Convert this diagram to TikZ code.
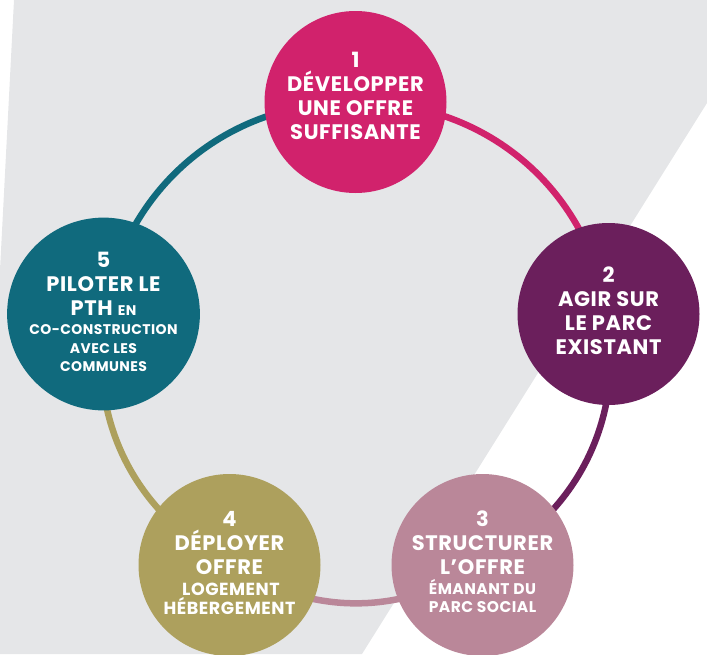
\documentclass[tikz,border=0pt]{standalone}
\usepackage{fontspec}
\setmainfont{Poppins}
\usetikzlibrary{backgrounds}
\definecolor{axeun}{HTML}{D1226C}
\definecolor{axedeux}{HTML}{6B1F5C}
\definecolor{axetrois}{HTML}{BA8799}
\definecolor{axequatre}{HTML}{ADA05D}
\definecolor{axecinq}{HTML}{106A7D}
\definecolor{fond}{HTML}{E5E6E8}
\newcommand{\petit}[1]{\fontsize{#1}{24}\selectfont}
\begin{document}
\begin{tikzpicture}[x=1pt,y=-1pt,
    bubble/.style={circle,minimum size=182pt,inner sep=0pt,align=center,
        text=white,font=\bfseries\addfontfeatures{LetterSpace=3}\fontsize{21}{24}\selectfont},
    ring/.style={line width=6.5pt}]
    \useasboundingbox (0,0) rectangle (707,654);
    % the five axes
    \node[bubble,fill=axeun,text depth=12pt] (c1) at (355.5,102)
        {1\\DÉVELOPPER\\UNE OFFRE\\SUFFISANTE};
    \node[bubble,fill=axedeux,text depth=7pt] (c2) at (608.5,314)
        {2\\AGIR SUR\\LE PARC\\EXISTANT};
    \node[bubble,fill=axetrois,text depth=7pt] (c3) at (482.5,565)
        {3\\STRUCTURER\\L’OFFRE\\[-4pt]{\petit{15.5}ÉMANANT DU}\\[-6pt]{\petit{15.5}PARC SOCIAL}};
    \node[bubble,fill=axequatre,text depth=4pt] (c4) at (229.5,565)
        {4\\DÉPLOYER\\OFFRE\\[-3pt]{\petit{17.5}\,LOGEMENT}\\[-5pt]{\petit{17.5}HÉBERGEMENT}};
    \node[bubble,fill=axecinq,text depth=4pt] (c5) at (103.5,314)
        {5\\PILOTER LE\\PTH {\petit{14}EN}\\[-5pt]{\petit{14}CO-CONSTRUCTION}\\[-5pt]{\petit{14}AVEC LES}\\[-6pt]{\petit{14}COMMUNES}};
    \begin{scope}[on background layer]
        % backdrop
        \fill[fond] (14,0) -- (707,0) -- (707,103) -- (362,654) -- (0,654) -- (0,270) -- cycle;
        % ring
        \draw[ring,axeun] (c1.center) to[bend left=40.3] (c2.center);
        \draw[ring,axedeux] (c2.center) to[bend left=34.1] (c3.center);
        \draw[ring,axetrois] (c3.center) to[bend left=31.2] (c4.center);
        \draw[ring,axequatre] (c4.center) to[bend left=34.1] (c5.center);
        \draw[ring,axecinq] (c5.center) to[bend left=40.3] (c1.center);
    \end{scope}
\end{tikzpicture}
\end{document}
